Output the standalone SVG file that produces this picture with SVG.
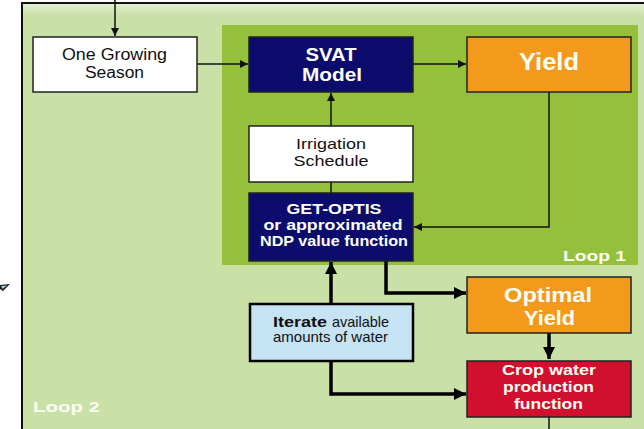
<svg xmlns="http://www.w3.org/2000/svg" width="644" height="429" viewBox="0 0 644 429">
  <defs>
    <marker id="ah" viewBox="0 0 10 10" refX="10" refY="5" markerWidth="11" markerHeight="8" markerUnits="userSpaceOnUse" orient="auto">
      <path d="M0,0 L10,5 L0,10 z" fill="#111"/>
    </marker>
    <marker id="ahb" viewBox="0 0 10 10" refX="10" refY="5" markerWidth="16" markerHeight="12" markerUnits="userSpaceOnUse" orient="auto">
      <path d="M0,0 L10,5 L0,10 z" fill="#000"/>
    </marker>
    <linearGradient id="topband" x1="0" y1="0" x2="0" y2="1">
      <stop offset="0" stop-color="#e2efd2"/>
      <stop offset="1" stop-color="#c9e1a6"/>
    </linearGradient>
  </defs>
  <style>
    .lbl { font-family: "Liberation Sans", Arial, sans-serif; text-anchor: middle; }
    .dark { fill: #111; }
    .light { fill: #fdfdf5; font-weight: bold; }
    .box { stroke: #222; stroke-width: 1.5; }
    .thin { fill: none; stroke: #111; stroke-width: 1.5; }
    .thick { fill: none; stroke: #000; stroke-width: 3.5; }
    .loop { font-family: "Liberation Sans", Arial, sans-serif; font-weight: bold; font-size: 15px; fill: #fdfdf5; }
  </style>

  <rect x="0" y="0" width="644" height="429" fill="#fff"/>

  <!-- outer loop region -->
  <g id="loop2">
    <rect x="22" y="3" width="630" height="430" fill="#c9e1a6" stroke="#111" stroke-width="2"/>
    <rect x="23" y="4" width="621" height="12" fill="url(#topband)"/>
    <text class="loop" x="33" y="412" textLength="67" lengthAdjust="spacingAndGlyphs">Loop 2</text>
  </g>

  <!-- inner loop region -->
  <g id="loop1">
    <rect x="222" y="25" width="416" height="240" fill="#95c03c"/>
    <text class="loop" x="563" y="261" textLength="63" lengthAdjust="spacingAndGlyphs">Loop 1</text>
  </g>

  <!-- stray arrow tip at the left margin -->
  <polygon points="0,285 10,284 3,291 0,289" fill="#1a1a1a"/>
  <polygon points="1,286 7,285.5 2.5,289" fill="#9fd0dc"/>

  <g id="connectors">
    <line class="thin" x1="115" y1="0" x2="115" y2="36" marker-end="url(#ah)"/>
    <line class="thin" x1="197" y1="64" x2="248" y2="64" marker-end="url(#ah)"/>
    <line class="thin" x1="413" y1="64" x2="466" y2="64" marker-end="url(#ah)"/>
    <line class="thin" x1="331" y1="126" x2="331" y2="93" marker-end="url(#ah)"/>
    <line class="thin" x1="331" y1="182" x2="331" y2="193"/>
    <polyline class="thin" points="549,92 549,227 414,227" marker-end="url(#ah)"/>
    <polyline class="thick" points="386,261 386,293 466,293" marker-end="url(#ahb)"/>
    <line class="thick" x1="549" y1="333" x2="549" y2="359" marker-end="url(#ahb)"/>
    <line class="thick" x1="331" y1="304" x2="331" y2="262" marker-end="url(#ahb)"/>
    <polyline class="thick" points="331,361 331,394 466,394" marker-end="url(#ahb)"/>
    <line class="thin" x1="549" y1="417" x2="549" y2="429"/>
  </g>

  <g id="growing-season">
    <rect class="box" x="33" y="37" width="164" height="55" fill="#fff"/>
    <text class="lbl dark" x="114.5" y="60" font-size="16" textLength="105" lengthAdjust="spacingAndGlyphs">One Growing</text>
    <text class="lbl dark" x="114.5" y="78" font-size="16" textLength="59" lengthAdjust="spacingAndGlyphs">Season</text>
  </g>

  <g id="svat-model">
    <rect class="box" x="249" y="37" width="164" height="55" fill="#0b0c6c"/>
    <text class="lbl light" x="331" y="61" font-size="17.5" textLength="51" lengthAdjust="spacingAndGlyphs">SVAT</text>
    <text class="lbl light" x="332" y="81" font-size="17.5" textLength="60" lengthAdjust="spacingAndGlyphs">Model</text>
  </g>

  <g id="yield">
    <rect class="box" x="467" y="37" width="164" height="55" fill="#f39a1c"/>
    <text class="lbl light" x="549" y="70" font-size="23" textLength="60" lengthAdjust="spacingAndGlyphs">Yield</text>
  </g>

  <g id="irrigation-schedule">
    <rect class="box" x="249" y="126" width="164" height="56" fill="#fff"/>
    <text class="lbl dark" x="331" y="149" font-size="15" textLength="70" lengthAdjust="spacingAndGlyphs">Irrigation</text>
    <text class="lbl dark" x="331" y="166" font-size="15" textLength="75" lengthAdjust="spacingAndGlyphs">Schedule</text>
  </g>

  <g id="get-optis">
    <rect class="box" x="249" y="193" width="164" height="68" fill="#0b0c6c"/>
    <text class="lbl light" x="334" y="214" font-size="14.5" textLength="95" lengthAdjust="spacingAndGlyphs">GET-OPTIS</text>
    <text class="lbl light" x="333" y="230" font-size="14.5" textLength="139" lengthAdjust="spacingAndGlyphs">or approximated</text>
    <text class="lbl light" x="334" y="246" font-size="14.5" textLength="148" lengthAdjust="spacingAndGlyphs">NDP value function</text>
  </g>

  <g id="optimal-yield">
    <rect class="box" x="467" y="277" width="164" height="56" fill="#f39a1c"/>
    <text class="lbl light" x="548" y="302" font-size="20" textLength="88" lengthAdjust="spacingAndGlyphs">Optimal</text>
    <text class="lbl light" x="549.5" y="325" font-size="20" textLength="51" lengthAdjust="spacingAndGlyphs">Yield</text>
  </g>

  <g id="iterate">
    <rect x="250" y="304" width="163" height="57" fill="#c6e3f3" stroke="#000" stroke-width="2.5"/>
    <text class="dark" x="273" y="327" font-family="Liberation Sans, Arial, sans-serif" font-size="14.5" font-weight="bold" textLength="54" lengthAdjust="spacingAndGlyphs">Iterate</text>
    <text class="dark" x="332" y="327" font-family="Liberation Sans, Arial, sans-serif" font-size="14.5" textLength="57" lengthAdjust="spacingAndGlyphs">available</text>
    <text class="lbl dark" x="330.5" y="342" font-size="14.5" textLength="115" lengthAdjust="spacingAndGlyphs">amounts of water</text>
  </g>

  <g id="crop-water">
    <rect class="box" x="467" y="361" width="164" height="56" fill="#d0102e"/>
    <text class="lbl light" x="549" y="375" font-size="15.5" textLength="94" lengthAdjust="spacingAndGlyphs">Crop water</text>
    <text class="lbl light" x="548.5" y="392" font-size="15.5" textLength="91" lengthAdjust="spacingAndGlyphs">production</text>
    <text class="lbl light" x="548.5" y="409" font-size="15.5" textLength="69" lengthAdjust="spacingAndGlyphs">function</text>
  </g>
</svg>
